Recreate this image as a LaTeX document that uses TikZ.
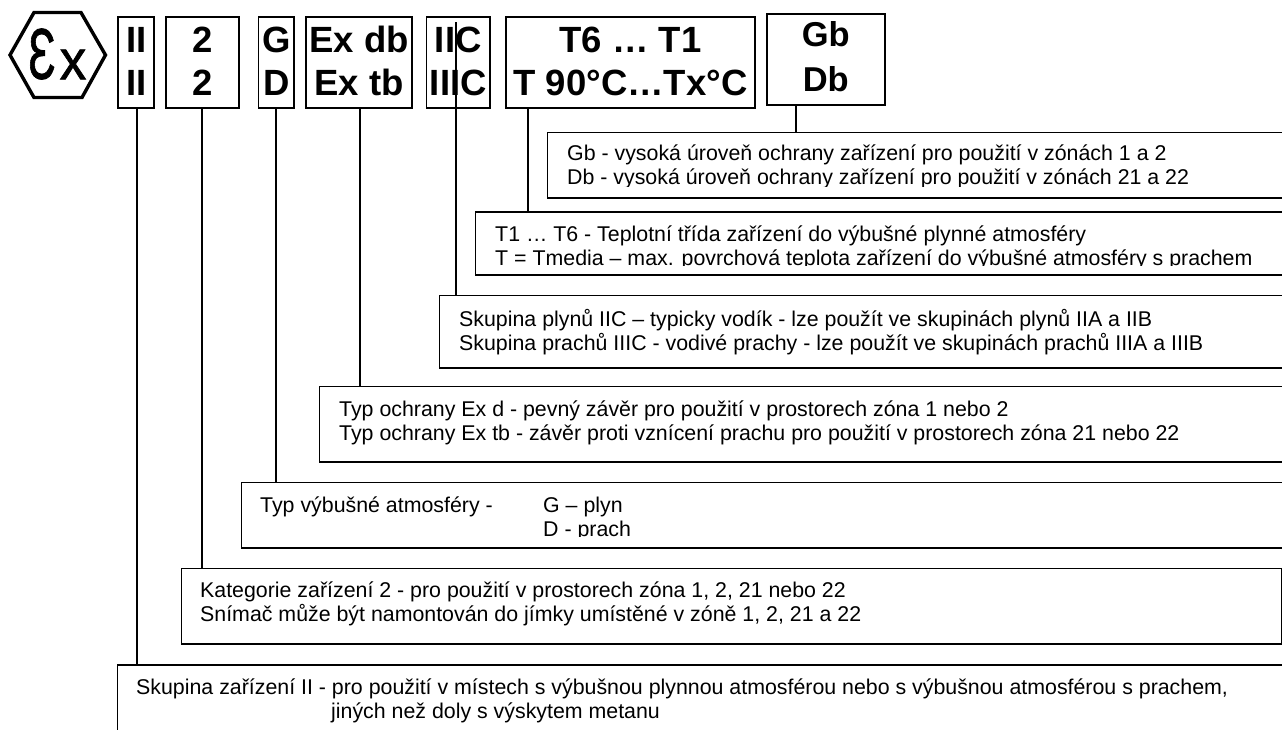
\documentclass[tikz,border=0pt]{standalone}
\usepackage{fontspec}
\setmainfont{Liberation Sans}
\newfontfamily\signfont[FakeBold=1.2]{Liberation Sans}
\newcommand{\marklines}[3]{\rule{0pt}{27pt}#1\\#2\rule[-#3pt]{0pt}{#3pt}}

\begin{document}
\begin{tikzpicture}[x=1pt, y=-1pt]
            \tikzstyle{mark box}=[rectangle,draw,line width=1.8pt,inner sep=0pt,minimum height=91.4pt,align=center,font=\fontsize{36.5}{43}\selectfont\bfseries]
            \tikzstyle{info box}=[rectangle,draw,line width=1.8pt,inner sep=0pt,anchor=north west]
            \tikzstyle{info text}=[inner sep=0pt,anchor=north west,align=left,font=\fontsize{21.35}{24}\selectfont]
            \tikzstyle{wire}=[line width=1.5pt]

            \useasboundingbox (0,0) rectangle (1282,729);

            % the Ex sign
            \coordinate (H_1) at (10,55);
            \coordinate (H_2) at (34,12.5);
            \coordinate (H_3) at (81,12.5);
            \coordinate (H_4) at (105.5,55);
            \coordinate (H_5) at (82,97.5);
            \coordinate (H_6) at (34,97.5);
            \draw[line width=3.4pt] (H_1) -- (H_2) -- (H_3) -- (H_4) -- (H_5) -- (H_6) -- cycle;
            \node[inner sep=0pt,xscale=0.63,font=\fontsize{72}{72}\signfont] (E_1) at (42,54) {Ɛ};
            \node[inner sep=0pt,xscale=0.95,font=\fontsize{56}{56}\signfont] (E_2) at (73,64.5) {x};

            \node[mark box,minimum width=36pt] (B_1) at (136.2,62.5) {\marklines{II}{II}{3.6}};
            \node[mark box,minimum width=73.5pt] (B_2) at (202.5,62.5) {\marklines{2}{2}{3.6}};
            \node[mark box,minimum width=35.3pt] (B_3) at (276.2,62.5) {\marklines{G}{D}{3.6}};
            \node[mark box,minimum width=105.6pt] (B_4) at (359,62.5) {\marklines{Ex db}{Ex tb}{3.6}};
            \node[mark box,minimum width=63.5pt] (B_5) at (458.3,62.5) {\marklines{IIC}{IIIC}{3.6}};
            \node[mark box,minimum width=248.6pt] (B_6) at (630.5,62.5) {\marklines{T6 … T1}{T 90°C…Tx°C}{3.6}};
            \node[mark box,minimum width=118pt,minimum height=91.2pt,font=\fontsize{34.5}{44.3}\selectfont\bfseries] (B_7) at (825.8,59.5) {\marklines{Gb}{Db}{8.3}};

            \node[info box,minimum width=760pt,minimum height=65.6pt] (S_7) at (546.5,131.5) {};
            \node[info box,minimum width=830pt,minimum height=63.4pt] (S_6) at (474.5,211) {};
            \node[info box,minimum width=860pt,minimum height=72.4pt] (S_5) at (438.5,294.5) {};
            \node[info box,minimum width=980pt,minimum height=75.6pt] (S_4) at (318.5,385.5) {};
            \node[info box,minimum width=1060pt,minimum height=65.6pt] (S_3) at (240.5,481.5) {};
            \node[info box,minimum width=1100pt,minimum height=75.4pt] (S_2) at (180.5,567.5) {};
            \node[info box,minimum width=1180pt,minimum height=90pt] (S_1) at (116.5,664) {};

            \begin{scope}
                \clip (546.5,131.5) rectangle (1282,186.7);
                \node[info text] (L_7) at (567,145) {Gb - vysoká úroveň ochrany zařízení pro použití v zónách 1 a 2\\Db - vysoká úroveň ochrany zařízení pro použití v zónách 21 a 22};
            \end{scope}
            \begin{scope}
                \clip (474.5,211) rectangle (1282,265.5);
                \node[info text] (L_6) at (495,225.5) {T1 … T6 - Teplotní třída zařízení do výbušné plynné atmosféry\\T = Tmedia – max. povrchová teplota zařízení do výbušné atmosféry s prachem};
            \end{scope}
            \node[info text] (L_5) at (459,309.5) {Skupina plynů IIC – typicky vodík - lze použít ve skupinách plynů IIA a IIB\\Skupina prachů IIIC - vodivé prachy - lze použít ve skupinách prachů IIIA a IIIB};
            \node[info text] (L_4) at (339,400.5) {Typ ochrany Ex d - pevný závěr pro použití v prostorech zóna 1 nebo 2\\Typ ochrany Ex tb - závěr proti vznícení prachu pro použití v prostorech zóna 21 nebo 22};
            \begin{scope}
                \clip (240.5,481.5) rectangle (1282,536);
                \node[info text] (L_3) at (260,496.5) {\makebox[283pt][l]{Typ výbušné atmosféry -}G – plyn\\\hspace*{283pt}D - prach};
            \end{scope}
            \node[info text] (L_2) at (200,582) {Kategorie zařízení 2 - pro použití v prostorech zóna 1, 2, 21 nebo 22\\Snímač může být namontován do jímky umístěné v zóně 1, 2, 21 a 22};
            \node[info text] (L_1) at (136,679) {Skupina zařízení II - pro použití v místech s výbušnou plynnou atmosférou nebo s výbušnou atmosférou s prachem,\\\hspace*{195pt}jiných než doly s výskytem metanu};

            \coordinate (C_1) at (137,108.2);
            \coordinate (C_2) at (201.8,108.2);
            \coordinate (C_3) at (275.8,108.2);
            \coordinate (C_4) at (360,108.2);
            \coordinate (C_5) at (456,22);
            \coordinate (C_6) at (528,108.2);
            \coordinate (C_7) at (796,105.1);

            \draw[wire] (C_1) -- (C_1 |- S_1.north);
            \draw[wire] (C_2) -- (C_2 |- S_2.north);
            \draw[wire] (C_3) -- (C_3 |- S_3.north);
            \draw[wire] (C_4) -- (C_4 |- S_4.north);
            \draw[wire] (C_5) -- (C_5 |- S_5.north);
            \draw[wire] (C_6) -- (C_6 |- S_6.north);
            \draw[wire] (C_7) -- (C_7 |- S_7.north);
        \end{tikzpicture}
\end{document}
